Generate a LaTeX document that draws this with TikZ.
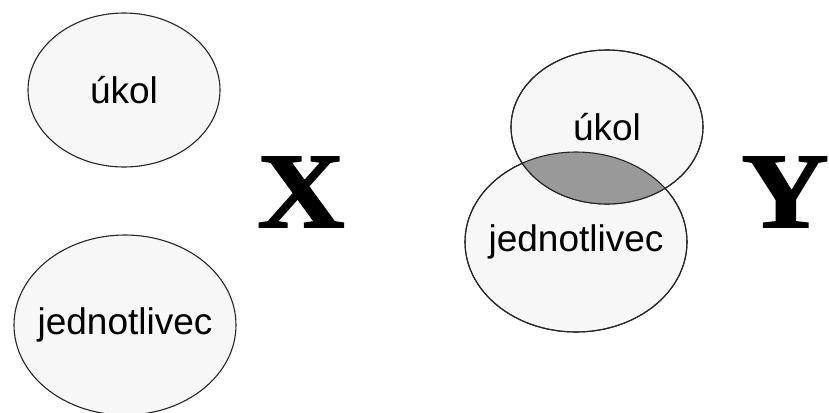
\documentclass[tikz,border=0pt]{standalone}
\usepackage{fontspec}
\setmainfont{Liberation Sans}
\newfontfamily\bigserif[UprightFont={* Bold}, FakeBold=1.5]{Liberation Serif}
\usetikzlibrary{shapes.geometric}
\begin{document}
\begin{tikzpicture}[x=1pt,y=-1pt,
  ell/.style={ellipse, draw=black!85, line width=1.1pt, fill=black!3, inner sep=0pt},
  small/.style={minimum width=192pt, minimum height=154pt},
  large/.style={minimum width=222pt, minimum height=180pt},
  lbl/.style={font=\fontsize{37}{40}\selectfont, inner sep=0pt},
  big/.style={font=\bigserif\fontsize{107}{110}\selectfont, inner sep=0pt, xscale=1.13},
  lens/.style={fill=black!40}]
\useasboundingbox (0,0) rectangle (829,412);
% left pair
\node[ell, small] (t1) at (124,90) {};
\node[lbl] (t1l) at (t1.center) {\makebox[0pt]{úkol}};
\node[ell, large] (b1) at (125,325) {};
\node[lbl] (b1l) at (b1.center) {\makebox[0pt]{jednotlivec}};
\node[big] (X) at (301,192) {X};
% right pair
\node[ell, large] (b2) at (576,242) {};
\node[ell, small] (t2) at (607,127) {};
\begin{scope}
  \clip (t2.center) ellipse [x radius=96pt, y radius=77pt];
  \fill[lens] (b2.center) ellipse [x radius=111pt, y radius=90pt];
\end{scope}
\draw[draw=black!85, line width=1.1pt] (t2.center) ellipse [x radius=96pt, y radius=77pt];
\draw[draw=black!85, line width=1.1pt] (b2.center) ellipse [x radius=111pt, y radius=90pt];
\node[lbl] (t2l) at (t2.center) {\makebox[0pt]{úkol}};
\node[lbl] (b2l) at (b2.center) {\makebox[0pt]{jednotlivec}};
\node[big] (Y) at (785,192) {Y};
\end{tikzpicture}
\end{document}
